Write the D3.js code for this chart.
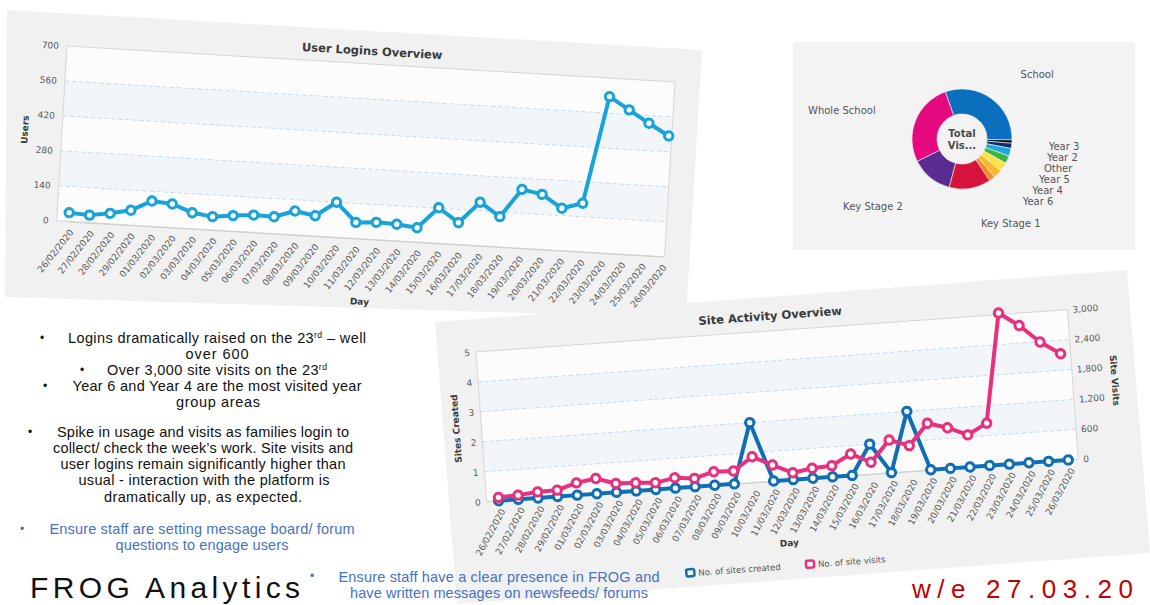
<!DOCTYPE html>
<html><head><meta charset="utf-8">
<script src="https://cdn.jsdelivr.net/npm/d3@7"></script>
<style>
body{margin:0;background:#fff;}
svg{display:block;}
.ax text{font-family:"DejaVu Sans",Verdana,sans-serif;font-size:9px;fill:#5a5a5a;}
</style>
</head><body>
<svg id="c" width="1150" height="605"></svg>
<script>
// ---------------- DATA ----------------
const days = ["26/02/2020","27/02/2020","28/02/2020","29/02/2020","01/03/2020","02/03/2020","03/03/2020","04/03/2020","05/03/2020","06/03/2020","07/03/2020","08/03/2020","09/03/2020","10/03/2020","11/03/2020","12/03/2020","13/03/2020","14/03/2020","15/03/2020","16/03/2020","17/03/2020","18/03/2020","19/03/2020","20/03/2020","21/03/2020","22/03/2020","23/03/2020","24/03/2020","25/03/2020","26/03/2020"];
const userLogins = [35,30,42,59,101,94,64,53,62,69,67,95,81,140,64,69,66,57,142,87,174,121,235,220,169,194,626,578,529,483];
const sitesCreated = [0,0,0,0,0,0,0,0,0,0,0,0,0,2,0,0,0,0,0,1,0,2,0,0,0,0,0,0,0,0];
const siteVisits = [68,84,122,128,246,306,178,162,134,206,166,272,258,516,322,138,200,224,430,236,654,512,934,816,644,850,3030,2752,2392,2128];
const loginTicks = [0,140,280,420,560,700];
const sitesTicks = [0,1,2,3,4,5];
const visitsTicks = [0,600,1200,1800,2400,3000];
const areaNames = ["School","Year 3","Year 2","Other","Year 5","Year 4","Year 6","","Key Stage 1","Key Stage 2","Whole School"];
const areaVisits = [110.5,4,6,9,9,10.5,10,7,48.5,48.5,97];
const areaColors = ["#0a6fbd","#111111","#0e2d6e","#1ea6e2","#3db544","#fde14a","#fbb829","#f58a1f","#d6133c","#5b2c8f","#e5087e"];
const notesBlack = [["Logins dramatically raised on the 23","rd"," – well"],["over 600"],["Over 3,000 site visits on the 23","rd"],["Year 6 and Year 4 are the most visited year"],["group areas"],["Spike in usage and visits as families login to"],["collect/ check the week’s work. Site visits and"],["user logins remain significantly higher than"],["usual - interaction with the platform is"],["dramatically up, as expected."]];
const notesBlue1 = ["Ensure staff are setting message board/ forum","questions to engage users"];
const notesBlue2 = ["Ensure staff have a clear presence in FROG and","have written messages on newsfeeds/ forums"];

// ---------------- DRAW ----------------
const svg = d3.select("#c");
const F = '"DejaVu Sans",Verdana,sans-serif';
const A = '"Liberation Sans",Arial,sans-serif';

// panel backgrounds
svg.append("polygon").attr("points","7,10 702,50 686,318 5,297").attr("fill","#f1f1f1");
svg.append("rect").attr("x",793).attr("y",42).attr("width",342).attr("height",208).attr("fill","#f3f3f3");
svg.append("polygon").attr("points","435,322 1127,270 1150,553 457,604").attr("fill","#f1f1f1");

function plotFrame(g, W, H, y, ticks){
  for(let i=0;i<ticks.length-1;i++){
    const t0=ticks[ticks.length-1-i], t1=ticks[ticks.length-2-i];
    g.append("rect").attr("x",0).attr("width",W).attr("y",y(t0)).attr("height",y(t1)-y(t0))
      .attr("fill", i%2===1 ? "#f3f6f9" : "#fcfcfd");
  }
  g.append("rect").attr("x",0).attr("y",0).attr("width",W).attr("height",H)
    .attr("fill","none").attr("stroke","#d6d6d6");
  ticks.slice(1,-1).forEach(t=>{
    g.append("line").attr("x1",0).attr("x2",W).attr("y1",y(t)).attr("y2",y(t))
      .attr("stroke","#c6dbe7").attr("stroke-dasharray","4,3");
  });
}
function xAxis(g, x, H, ang){
  const ax = g.append("g").attr("class","ax").attr("transform",`translate(0,${H})`)
    .call(d3.axisBottom(x).tickSize(0));
  ax.select(".domain").attr("stroke","#cfcfcd");
  ax.selectAll("text").attr("x",0).attr("y",0).attr("dy","0.35em")
    .attr("text-anchor","end").attr("transform",`translate(3,9) rotate(${ang})`);
}
function series(g, x, y, vals, color){
  g.append("path").datum(vals).attr("fill","none").attr("stroke",color).attr("stroke-width",4)
    .attr("stroke-linejoin","round")
    .attr("d", d3.line().x((d,i)=>x(days[i])).y(d=>y(d)));
  g.selectAll(null).data(vals).enter().append("circle")
    .attr("cx",(d,i)=>x(days[i])).attr("cy",d=>y(d)).attr("r",4.2)
    .attr("fill","#fff").attr("stroke",color).attr("stroke-width",3);
}

// ----- Chart 1: User Logins Overview
{
  const W=609, H=175;
  const g = svg.append("g").attr("transform","translate(67,46) rotate(3.39)");
  const x = d3.scalePoint().domain(days).range([12,606]);
  const y = d3.scaleLinear().domain([0,700]).range([H,0]);
  plotFrame(g,W,H,y,loginTicks);
  const ya = g.append("g").attr("class","ax").call(d3.axisLeft(y).tickValues(loginTicks).tickSize(0).tickPadding(8));
  ya.select(".domain").remove();
  xAxis(g,x,H,-55);
  series(g,x,y,userLogins,"#18a3da");
  g.append("text").attr("x",305).attr("y",-9).attr("text-anchor","middle")
    .attr("font-family",F).attr("font-weight","bold").attr("font-size",11.5).attr("fill","#3a3a3a").text("User Logins Overview");
  g.append("text").attr("transform","translate(-34,86) rotate(-90)").attr("text-anchor","middle")
    .attr("font-family",F).attr("font-weight","bold").attr("font-size",9).attr("fill","#3a3a3a").text("Users");
  g.append("text").attr("x",307).attr("y",241).attr("text-anchor","middle")
    .attr("font-family",F).attr("font-weight","bold").attr("font-size",9).attr("fill","#3a3a3a").text("Day");
}

// ----- Chart 2: Site Activity Overview
{
  const W=593, H=150;
  const g = svg.append("g").attr("transform","translate(476,352) rotate(-4.1)");
  const x = d3.scalePoint().domain(days).range([12,583]);
  const yL = d3.scaleLinear().domain([0,5]).range([H,0]);
  const yR = d3.scaleLinear().domain([0,3000]).range([H,0]);
  plotFrame(g,W,H,yL,sitesTicks);
  const la = g.append("g").attr("class","ax").call(d3.axisLeft(yL).tickValues(sitesTicks).tickSize(0).tickPadding(6).tickFormat(d3.format("d")));
  la.select(".domain").remove();
  const ra = g.append("g").attr("class","ax").attr("transform",`translate(${W},0)`)
    .call(d3.axisRight(yR).tickValues(visitsTicks).tickSize(0).tickPadding(5).tickFormat(d3.format(",")));
  ra.select(".domain").remove();
  xAxis(g,x,H,-57.5);
  series(g,x,yL,sitesCreated,"#0f6eb4");
  series(g,x,yR,siteVisits,"#e8307c");
  g.append("text").attr("x",296).attr("y",-11).attr("text-anchor","middle")
    .attr("font-family",F).attr("font-weight","bold").attr("font-size",11.5).attr("fill","#3a3a3a").text("Site Activity Overview");
  g.append("text").attr("transform","translate(-22,75) rotate(-90)").attr("text-anchor","middle")
    .attr("font-family",F).attr("font-weight","bold").attr("font-size",9).attr("fill","#3a3a3a").text("Sites Created");
  g.append("text").attr("transform","translate(632,74) rotate(90)").attr("text-anchor","middle")
    .attr("font-family",F).attr("font-weight","bold").attr("font-size",9).attr("fill","#3a3a3a").text("Site Visits");
  g.append("text").attr("x",299).attr("y",216).attr("text-anchor","middle")
    .attr("font-family",F).attr("font-weight","bold").attr("font-size",9).attr("fill","#3a3a3a").text("Day");
  const leg = [["No. of sites created","#0f6eb4",198],["No. of site visits","#e8307c",318]];
  leg.forEach(([t,c,lx])=>{
    g.append("rect").attr("x",lx-4).attr("y",232).attr("width",8).attr("height",7).attr("rx",1.5)
      .attr("fill","#fff").attr("stroke",c).attr("stroke-width",2.5);
    g.append("text").attr("x",lx+8).attr("y",239).attr("font-family",F).attr("font-size",8.5)
      .attr("fill","#555").text(t);
  });
}

// ----- Donut
{
  const cx=962, cy=139, R=87, RY=83;
  const g = svg.append("g").attr("transform",`translate(${cx},${cy})`);
  const pie = d3.pie().sort(null).startAngle(-19.5*Math.PI/180).endAngle((360-19.5)*Math.PI/180);
  const arcs = pie(areaVisits);
  const arc = d3.arc().innerRadius(25).outerRadius(50);
  g.selectAll("path").data(arcs).enter().append("path").attr("d",arc)
    .attr("fill",(d,i)=>areaColors[i]).attr("stroke","#f3f3f3").attr("stroke-width",0.6);
  g.append("text").attr("y",-2).attr("text-anchor","middle").attr("font-family",F).attr("font-weight","bold")
    .attr("font-size",10).attr("fill","#4a4a4a").text("Total");
  g.append("text").attr("y",10).attr("text-anchor","middle").attr("font-family",F).attr("font-weight","bold")
    .attr("font-size",10).attr("fill","#4a4a4a").text("Vis...");
  const labs = arcs.map((a,i)=>{const m=(a.startAngle+a.endAngle)/2; return {i, m, y:-RY*Math.cos(m)+3, right:Math.sin(m)>=0};})
    .filter(l=>areaNames[l.i]!=="");
  const rightLow = labs.filter(l=>l.right && l.i>0).sort((a,b)=>a.y-b.y);
  for(let k=1;k<rightLow.length;k++) rightLow[k].y=Math.max(rightLow[k].y,rightLow[k-1].y+11);
  labs.forEach(l=>{
    const dx=Math.sqrt(Math.max(0,R*R-l.y*l.y));
    g.append("text").attr("x",l.right?dx:-dx-4).attr("y",l.y).attr("dy","0.35em")
      .attr("text-anchor",l.right?"start":"end").attr("font-family",F).attr("font-size",10)
      .attr("fill","#555").text(areaNames[l.i]);
  });
}

// ----- slide text
function line(x,y,len,parts,color,size){
  const t=svg.append("text").attr("x",x).attr("y",y).attr("text-anchor","middle")
    .attr("font-family",A).attr("font-size",size).attr("fill",color)
    .attr("textLength",len).attr("lengthAdjust","spacing");
  if(parts.length===1){t.text(parts[0]);return;}
  t.append("tspan").text(parts[0]);
  t.append("tspan").attr("dy",-5).attr("font-size",size*0.6).text(parts[1]);
  if(parts[2]) t.append("tspan").attr("dy",5).text(parts[2]);
}
function bullet(x,y,color){svg.append("text").attr("x",x).attr("y",y).attr("font-family",A).attr("font-size",12).attr("fill",color).text("•");}
const blkPos=[[217,343,298],[217,359,63],[217,375,220],[217,391,289],[218,407,84],[203,437,292],[203,453,300],[203,469,285],[204,485,251],[203,502,198]];
notesBlack.forEach((p,i)=>line(blkPos[i][0],blkPos[i][1],blkPos[i][2],p,"#111",14.5));
bullet(40,342,"#111");bullet(80,374,"#111");bullet(43,390,"#111");bullet(28,436,"#111");
const b1Pos=[[202,534,305],[202,550,173]];
notesBlue1.forEach((t,i)=>line(b1Pos[i][0],b1Pos[i][1],b1Pos[i][2],[t],"#4472c4",14.5));
bullet(20,533,"#4472c4");
const b2Pos=[[499,582,321],[499,598,298]];
notesBlue2.forEach((t,i)=>line(b2Pos[i][0],b2Pos[i][1],b2Pos[i][2],[t],"#4472c4",14.5));
bullet(310,580,"#4472c4");
svg.append("text").attr("x",30).attr("y",598).attr("font-family",A).attr("font-size",30).attr("fill","#111")
  .attr("textLength",270).attr("lengthAdjust","spacing").text("FROG Analytics");
svg.append("text").attr("x",912).attr("y",598).attr("font-family",A).attr("font-size",26).attr("fill","#c00000")
  .attr("textLength",221).attr("lengthAdjust","spacing").text("w/e 27.03.20");
</script>
</body></html>
